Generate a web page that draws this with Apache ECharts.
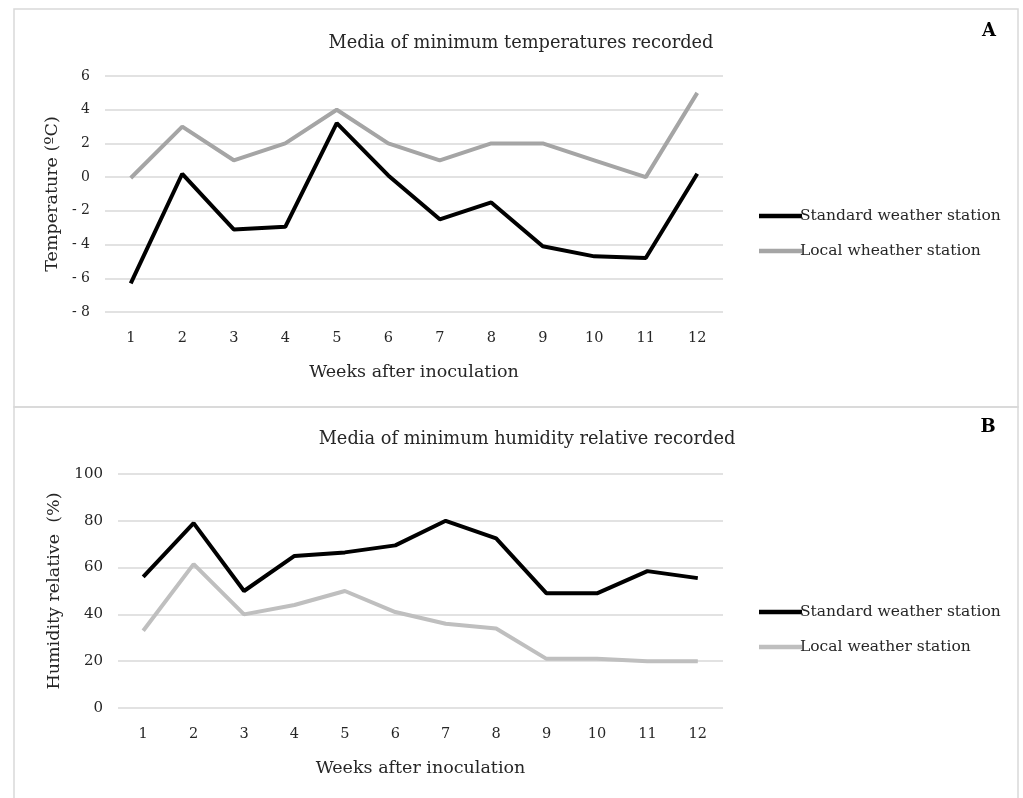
<!DOCTYPE html>
<html>
<head>
<meta charset="utf-8">
<script src="https://cdn.jsdelivr.net/npm/echarts@6/dist/echarts.min.js"></script>
<style>
  html, body { margin: 0; padding: 0; background: #fff; }
  #chart { width: 1023px; height: 798px; }
</style>
</head>
<body>
<div id="chart"></div>
<script>
// Weeks after inoculation (x categories shared by both panels)
const weeks = ['1', '2', '3', '4', '5', '6', '7', '8', '9', '10', '11', '12'];

// Panel A: mean minimum temperature (ºC)
const tempStandard = [-6.3, 0.2, -3.1, -2.95, 3.2, 0.1, -2.5, -1.5, -4.1, -4.7, -4.8, 0.2];
const tempLocal = [-0.05, 3, 1, 2, 4, 2, 1, 2, 2, 1, 0, 5];

// Panel B: mean minimum relative humidity (%)
const humStandard = [56, 79, 50, 65, 66.5, 69.5, 80, 72.5, 49, 49, 58.5, 55.5];
const humLocal = [33, 61.5, 40, 44, 50, 41, 36, 34, 21, 21, 20, 20];

// Axis ranges / ticks
const tempTicks = { min: -8, max: 6, interval: 2 };
const humTicks = { min: 0, max: 100, interval: 20 };

const FONT = 'DejaVu Serif';
const TXT = '#262626';
const GRIDC = '#d9d9d9';

const chart = echarts.init(document.getElementById('chart'), null, { renderer: 'canvas' });

function xAxisFor(gridIndex) {
  return {
    type: 'category', gridIndex, data: weeks, boundaryGap: true,
    axisLine: { show: false }, axisTick: { show: false },
    axisLabel: { color: TXT, fontFamily: FONT, fontSize: 14.5, margin: 19 },
    name: 'Weeks after inoculation', nameLocation: 'middle', nameGap: 51,
    nameTextStyle: { color: TXT, fontFamily: FONT, fontSize: 17.5 }
  };
}

const legendText = { fontFamily: FONT, fontSize: 15.5, color: TXT, padding: [0, 0, 0, -7] };

chart.setOption({
  animation: false,
  textStyle: { fontFamily: FONT },
  title: [
    { text: 'Media of minimum temperatures recorded', left: 516, top: 29, textAlign: 'center',
      textStyle: { fontFamily: FONT, fontSize: 17.8, fontWeight: 'normal', color: TXT } },
    { text: 'Media of minimum humidity relative recorded', left: 522, top: 425, textAlign: 'center',
      textStyle: { fontFamily: FONT, fontSize: 17.8, fontWeight: 'normal', color: TXT } },
    { text: 'A', left: 984, top: 17, textAlign: 'center',
      textStyle: { fontFamily: FONT, fontSize: 18, fontWeight: 'bold', color: '#000' } },
    { text: 'B', left: 983, top: 413, textAlign: 'center',
      textStyle: { fontFamily: FONT, fontSize: 18, fontWeight: 'bold', color: '#000' } }
  ],
  legend: [
    { orient: 'vertical', left: 754, top: 203, itemGap: 19, itemWidth: 43, itemHeight: 4.5,
      icon: 'rect', data: ['Standard weather station', 'Local wheather station'], textStyle: legendText },
    { orient: 'vertical', left: 754, top: 599, itemGap: 19, itemWidth: 43, itemHeight: 4.5,
      icon: 'rect', data: ['Standard weather station', 'Local weather station'], textStyle: legendText }
  ],
  grid: [
    { left: 105, right: 300, top: 76, height: 236 },
    { left: 118, right: 300, top: 474, height: 234 }
  ],
  xAxis: [xAxisFor(0), xAxisFor(1)],
  yAxis: [
    {
      type: 'value', gridIndex: 0, min: tempTicks.min, max: tempTicks.max, interval: tempTicks.interval,
      axisLine: { show: false }, axisTick: { show: false },
      splitLine: { lineStyle: { color: GRIDC, width: 1.5 } },
      axisLabel: { color: TXT, fontFamily: FONT, fontSize: 14, margin: 15,
        formatter: v => (v < 0 ? '- ' + (-v) : String(v)) },
      name: 'Temperature (ºC)', nameLocation: 'middle', nameGap: 42,
      nameTextStyle: { color: TXT, fontFamily: FONT, fontSize: 17.5 }
    },
    {
      type: 'value', gridIndex: 1, min: humTicks.min, max: humTicks.max, interval: humTicks.interval,
      axisLine: { show: false }, axisTick: { show: false },
      splitLine: { lineStyle: { color: GRIDC, width: 1.5 } },
      axisLabel: { color: TXT, fontFamily: FONT, fontSize: 15, margin: 15 },
      name: 'Humidity relative  (%)', nameLocation: 'middle', nameGap: 54,
      nameTextStyle: { color: TXT, fontFamily: FONT, fontSize: 17.5 }
    }
  ],
  series: [
    { name: 'Standard weather station', type: 'line', xAxisIndex: 0, yAxisIndex: 0, data: tempStandard,
      showSymbol: false, lineStyle: { color: '#000', width: 4 }, itemStyle: { color: '#000' }, z: 3 },
    { name: 'Local wheather station', type: 'line', xAxisIndex: 0, yAxisIndex: 0, data: tempLocal,
      showSymbol: false, lineStyle: { color: '#a5a5a5', width: 4 }, itemStyle: { color: '#a5a5a5' }, z: 2 },
    { name: 'Standard weather station', type: 'line', xAxisIndex: 1, yAxisIndex: 1, data: humStandard,
      showSymbol: false, lineStyle: { color: '#000', width: 4 }, itemStyle: { color: '#000' }, z: 3 },
    { name: 'Local weather station', type: 'line', xAxisIndex: 1, yAxisIndex: 1, data: humLocal,
      showSymbol: false, lineStyle: { color: '#bfbfbf', width: 4 }, itemStyle: { color: '#bfbfbf' }, z: 2 }
  ],
  graphic: [
    // panel frames
    { type: 'rect', shape: { x: 14, y: 9, width: 1004, height: 398 },
      style: { fill: null, stroke: GRIDC, lineWidth: 1.5 }, silent: true },
    { type: 'rect', shape: { x: 14, y: 407, width: 1004, height: 400 },
      style: { fill: null, stroke: GRIDC, lineWidth: 1.5 }, silent: true }
  ]
});
</script>
</body>
</html>
